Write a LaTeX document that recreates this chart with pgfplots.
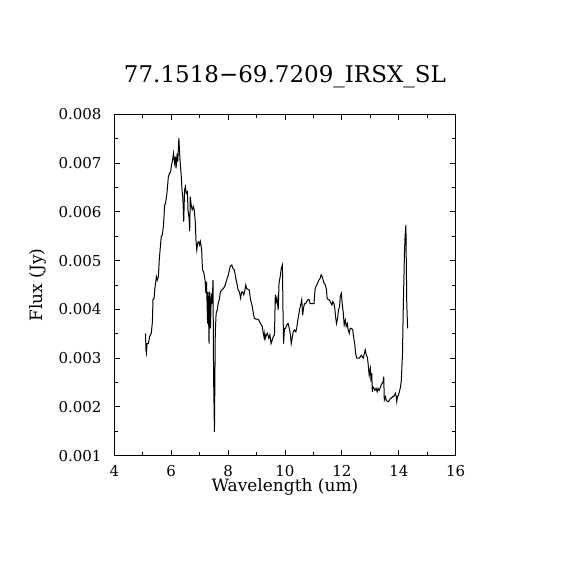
\documentclass[border=0pt]{standalone}
\usepackage{pgfplots}
\pgfplotsset{compat=1.18}
\usepackage{fontspec}
\setmainfont{DejaVu Serif}

\begin{document}
\begin{tikzpicture}
\begin{axis}[
    scale only axis,
    width=341.4pt, height=341.4pt,
    xmin=4, xmax=16, ymin=0.001, ymax=0.008,
    xtick={4,6,...,16},
    ytick={0.001,0.002,...,0.008},
    minor x tick num=1, minor y tick num=1,
    major tick length=6pt, minor tick length=3.3pt,
    tick style={black, line width=1pt},
    axis line style={line width=1pt},
    scaled y ticks=false,
    /pgf/number format/assume math mode=true,
    yticklabel style={/pgf/number format/fixed, /pgf/number format/precision=3,
        /pgf/number format/fixed zerofill, anchor=east, inner sep=0pt, xshift=-12.6pt},
    xticklabel style={anchor=base, inner sep=0pt, yshift=-21pt},
    ticklabel style={font=\fontsize{15}{17}\selectfont},
    title={77.1518−69.7209\_IRSX\_SL},
    title style={font=\fontsize{23}{26}\selectfont, at={(axis description cs:0.5,1)},
        anchor=base, yshift=26pt, inner sep=0pt},
    xlabel={Wavelength (um)},
    xlabel style={font=\fontsize{17}{19}\selectfont, at={(axis description cs:0.5,-0.1054)},
        anchor=base, inner sep=0pt},
    ylabel={Flux (Jy)},
    ylabel style={font=\fontsize{17}{19}\selectfont, at={(axis description cs:-0.2226,0.5)},
        anchor=center, inner sep=0pt},
]
\addplot[black, line width=1pt, mark=none] coordinates {
(5.10,0.00351) (5.11,0.00317) (5.13,0.00310) (5.15,0.00330) (5.20,0.00330)
(5.24,0.00344) (5.30,0.00351) (5.34,0.00375) (5.36,0.00420) (5.40,0.00423)
(5.42,0.00440) (5.48,0.00467) (5.51,0.00460) (5.55,0.00467) (5.58,0.00501)
(5.62,0.00529) (5.65,0.00549) (5.69,0.00553) (5.73,0.00573) (5.77,0.00614)
(5.80,0.00617) (5.85,0.00638) (5.90,0.00672) (5.94,0.00679) (5.98,0.00682)
(6.01,0.00696) (6.05,0.00706) (6.08,0.00720) (6.12,0.00700) (6.15,0.00713)
(6.17,0.00689) (6.21,0.00720) (6.23,0.00703) (6.27,0.00751) (6.29,0.00727)
(6.31,0.00706) (6.35,0.00676) (6.38,0.00645) (6.41,0.00628) (6.44,0.00580)
(6.47,0.00645) (6.50,0.00652) (6.53,0.00638) (6.57,0.00641) (6.59,0.00604)
(6.63,0.00587) (6.65,0.00560) (6.67,0.00631) (6.71,0.00611) (6.74,0.00604)
(6.78,0.00611) (6.81,0.00604) (6.85,0.00576) (6.87,0.00542) (6.90,0.00522)
(6.93,0.00536) (6.97,0.00539) (7.00,0.00532) (7.03,0.00539) (7.07,0.00522)
(7.10,0.00481) (7.14,0.00477) (7.19,0.00460) (7.22,0.00433) (7.24,0.00457)
(7.28,0.00371) (7.30,0.00436) (7.33,0.00330) (7.35,0.00436) (7.38,0.00361)
(7.41,0.00433) (7.44,0.00412) (7.47,0.00460) (7.49,0.00262) (7.52,0.00149)
(7.55,0.00355) (7.58,0.00392) (7.62,0.00399) (7.65,0.00412) (7.69,0.00420)
(7.73,0.00436) (7.78,0.00440) (7.84,0.00443) (7.90,0.00450) (7.95,0.00460)
(8.01,0.00471) (8.07,0.00488) (8.13,0.00491) (8.17,0.00484) (8.22,0.00481)
(8.27,0.00464) (8.31,0.00453) (8.35,0.00440) (8.40,0.00436) (8.44,0.00423)
(8.48,0.00436) (8.51,0.00436) (8.55,0.00430) (8.58,0.00436) (8.62,0.00450)
(8.65,0.00443) (8.70,0.00441) (8.74,0.00440) (8.79,0.00420) (8.85,0.00406)
(8.88,0.00395) (8.92,0.00382) (8.97,0.00380) (9.02,0.00380) (9.08,0.00378)
(9.14,0.00371) (9.20,0.00365) (9.23,0.00354) (9.27,0.00341) (9.29,0.00351)
(9.31,0.00341) (9.35,0.00348) (9.38,0.00351) (9.43,0.00341) (9.47,0.00348)
(9.51,0.00330) (9.55,0.00337) (9.59,0.00344) (9.63,0.00348) (9.66,0.00430)
(9.69,0.00416) (9.72,0.00423) (9.76,0.00399) (9.79,0.00453) (9.83,0.00467)
(9.87,0.00484) (9.91,0.00491) (9.93,0.00396) (9.95,0.00330) (9.98,0.00361)
(10.02,0.00361) (10.06,0.00368) (10.11,0.00371) (10.15,0.00361) (10.19,0.00348)
(10.22,0.00330) (10.26,0.00344) (10.29,0.00354) (10.33,0.00358) (10.38,0.00354)
(10.41,0.00361) (10.45,0.00378) (10.48,0.00388) (10.52,0.00402) (10.55,0.00409)
(10.59,0.00420) (10.62,0.00388) (10.66,0.00406) (10.69,0.00412) (10.73,0.00412)
(10.76,0.00416) (10.81,0.00420) (10.85,0.00420) (10.88,0.00412) (10.93,0.00412)
(10.98,0.00412) (11.02,0.00412) (11.06,0.00443) (11.09,0.00447) (11.14,0.00453)
(11.19,0.00460) (11.24,0.00464) (11.27,0.00471) (11.31,0.00467) (11.34,0.00460)
(11.38,0.00453) (11.42,0.00450) (11.46,0.00440) (11.48,0.00423) (11.52,0.00420)
(11.55,0.00420) (11.59,0.00416) (11.62,0.00412) (11.65,0.00409) (11.68,0.00416)
(11.72,0.00412) (11.75,0.00402) (11.78,0.00384) (11.81,0.00371) (11.85,0.00382)
(11.88,0.00399) (11.92,0.00406) (11.94,0.00426) (11.98,0.00433) (12.01,0.00412)
(12.05,0.00392) (12.08,0.00368) (12.12,0.00378) (12.15,0.00365) (12.19,0.00371)
(12.22,0.00358) (12.26,0.00351) (12.29,0.00361) (12.34,0.00361) (12.38,0.00358)
(12.41,0.00344) (12.45,0.00330) (12.48,0.00310) (12.52,0.00300) (12.56,0.00300)
(12.61,0.00300) (12.65,0.00303) (12.68,0.00306) (12.72,0.00303) (12.75,0.00300)
(12.79,0.00310) (12.82,0.00317) (12.86,0.00306) (12.89,0.00303) (12.92,0.00290)
(12.94,0.00276) (12.96,0.00265) (13.00,0.00279) (13.02,0.00258) (13.05,0.00269)
(13.07,0.00231) (13.09,0.00241) (13.13,0.00238) (13.16,0.00234) (13.20,0.00238)
(13.24,0.00231) (13.27,0.00238) (13.31,0.00234) (13.34,0.00238) (13.38,0.00245)
(13.41,0.00248) (13.45,0.00252) (13.47,0.00262) (13.49,0.00214) (13.53,0.00221)
(13.56,0.00214) (13.60,0.00211) (13.64,0.00211) (13.67,0.00214) (13.71,0.00218)
(13.74,0.00218) (13.78,0.00221) (13.81,0.00221) (13.85,0.00224) (13.88,0.00228)
(13.91,0.00221) (13.93,0.00211) (13.95,0.00221) (13.99,0.00224) (14.02,0.00231)
(14.06,0.00241) (14.09,0.00255) (14.13,0.00310) (14.16,0.00412) (14.20,0.00518)
(14.22,0.00549) (14.25,0.00573) (14.26,0.00515) (14.28,0.00412) (14.31,0.00361)
};
\end{axis}
\useasboundingbox (-114.3pt,-114.3pt) rectangle (455.7pt,455.7pt);
\end{tikzpicture}
\end{document}
